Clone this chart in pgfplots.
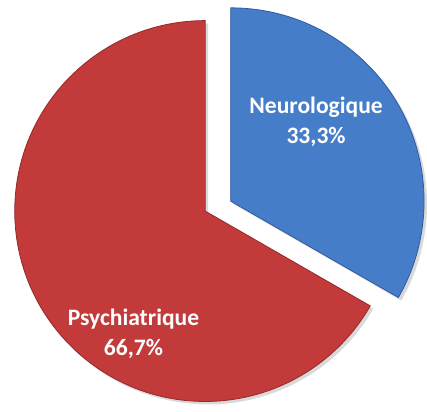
\documentclass[border=0pt]{standalone}
\usepackage{fontspec}
\setmainfont{Carlito}
\usepackage{pgfplots}
\pgfplotsset{compat=1.18}
\definecolor{pieRed}{RGB}{194,58,58}
\definecolor{pieRedDark}{RGB}{150,40,42}
\definecolor{pieBlue}{RGB}{70,125,200}
\definecolor{pieBlueDark}{RGB}{45,90,160}
\begin{document}
\begin{tikzpicture}
\begin{axis}[width=427pt,height=419pt,scale only axis,
  xmin=0,xmax=427,ymin=0,ymax=419,axis lines=none,clip=false]
\path (axis cs:0,0) rectangle (axis cs:427,419);
% data: shares in percent
\def\valN{33.3}
\def\valP{66.7}
\pgfmathsetmacro\angN{3.6*\valN}
\pgfmathsetmacro\endP{90+3.6*\valP}
\pgfmathsetmacro\endN{90-\angN}
% shadows
\fill[black,opacity=0.15] (axis cs:212,201) -- ++(90:194pt) arc[start angle=90,end angle=\endP,radius=194pt] -- cycle;
\fill[black,opacity=0.15] (axis cs:238,211) -- ++(90:197pt) arc[start angle=90,end angle=\endN,radius=197pt] -- cycle;
% Psychiatrique
\fill[pieRed,draw=pieRedDark,line width=0.8pt] (axis cs:209,204) -- ++(90:194pt) arc[start angle=90,end angle=\endP,radius=194pt] -- cycle;
% Neurologique
\fill[pieBlue,draw=pieBlueDark,line width=0.8pt] (axis cs:235,214) -- ++(90:197pt) arc[start angle=90,end angle=\endN,radius=197pt] -- cycle;
\node[white,align=center,font=\bfseries\fontsize{24}{30}\selectfont] at (axis cs:136,79) {Psychiatrique\\66,7\%};
\node[white,align=center,font=\bfseries\fontsize{24}{30}\selectfont] at (axis cs:322,295) {Neurologique\\33,3\%};
\end{axis}
\end{tikzpicture}
\end{document}
